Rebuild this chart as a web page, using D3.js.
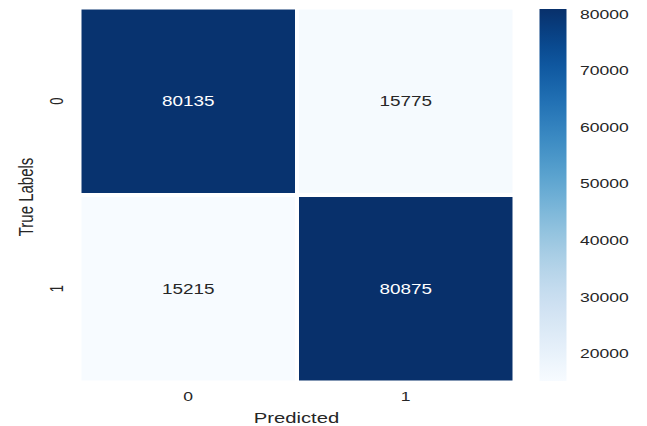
<!DOCTYPE html>
<html>
<head>
<meta charset="utf-8">
<script src="https://cdn.jsdelivr.net/npm/d3@7"></script>
<style>
  html, body { margin: 0; padding: 0; background: #fff; }
  svg { display: block; }
  text { font-family: "Liberation Sans", Arial, sans-serif; fill: #262626; }
</style>
</head>
<body>
<svg id="chart" width="647" height="426"></svg>
<script>
const predictedLabels = ["0", "1"];
const trueLabels = ["0", "1"];
const matrixValues = [
  [80135, 15775],
  [15215, 80875]
];
const colorbarTicks = [20000, 30000, 40000, 50000, 60000, 70000, 80000];
const xTitle = "Predicted";
const yTitle = "True Labels";

const svg = d3.select("#chart");
const SX = 1.35; // horizontal stretch of the reference image

const cells = [];
trueLabels.forEach((t, i) => predictedLabels.forEach((p, j) => cells.push({t, p, v: matrixValues[i][j]})));

const allVals = cells.map(d => d.v);
const vmin = d3.min(allVals), vmax = d3.max(allVals);
const color = d3.scaleSequential(d3.interpolateBlues).domain([vmin, vmax]);

const x = d3.scaleBand().domain(predictedLabels).range([79.5, 514.5]);
const y = d3.scaleBand().domain(trueLabels).range([7.5, 382.5]);

svg.append("g").selectAll("rect").data(cells).join("rect")
  .attr("x", d => x(d.p)).attr("y", d => y(d.t))
  .attr("width", x.bandwidth()).attr("height", y.bandwidth())
  .attr("fill", d => color(d.v))
  .attr("stroke", "#fff").attr("stroke-width", 4);

svg.append("g").selectAll("text").data(cells).join("text")
  .attr("transform", d => `translate(${x(d.p) + x.bandwidth()/2},${y(d.t) + y.bandwidth()/2}) scale(${SX},1)`)
  .attr("text-anchor", "middle").attr("dy", "0.35em")
  .style("font-size", "14px")
  .style("fill", d => (d.v - vmin) / (vmax - vmin) > 0.5 ? "#ffffff" : "#262626")
  .text(d => d.v);

// x tick labels
svg.append("g").selectAll("text").data(predictedLabels).join("text")
  .attr("transform", d => `translate(${x(d) + x.bandwidth()/2},401) scale(${SX},1)`)
  .attr("text-anchor", "middle")
  .style("font-size", "13px")
  .text(d => d);

// y tick labels
svg.append("g").selectAll("text").data(trueLabels).join("text")
  .attr("transform", d => `translate(63,${y(d) + y.bandwidth()/2}) scale(${SX},1) rotate(-90)`)
  .attr("text-anchor", "middle")
  .style("font-size", "13px")
  .text(d => d);

// axis titles
svg.append("text")
  .attr("transform", `translate(296.5,423) scale(${SX},1)`)
  .attr("text-anchor", "middle").style("font-size", "15px")
  .text(xTitle);
svg.append("text")
  .attr("transform", `translate(32.5,197) scale(${SX},1) rotate(-90)`)
  .attr("text-anchor", "middle").style("font-size", "15px")
  .text(yTitle);

// colorbar
const cbX = 539.5, cbW = 27;
const cy = d3.scaleLinear().domain([vmin, vmax]).range([381, 9]);
const defs = svg.append("defs");
const grad = defs.append("linearGradient").attr("id", "cbgrad")
  .attr("x1", 0).attr("y1", 1).attr("x2", 0).attr("y2", 0);
d3.range(0, 1.0001, 0.05).forEach(t => {
  grad.append("stop").attr("offset", t).attr("stop-color", d3.interpolateBlues(t));
});
svg.append("rect").attr("x", cbX).attr("y", cy(vmax)).attr("width", cbW)
  .attr("height", cy(vmin) - cy(vmax)).attr("fill", "url(#cbgrad)");

svg.append("g").selectAll("text").data(colorbarTicks).join("text")
  .attr("transform", d => `translate(580,${cy(d)}) scale(${SX},1)`)
  .attr("dy", "0.35em")
  .style("font-size", "13px")
  .text(d => d);
</script>
</body>
</html>
